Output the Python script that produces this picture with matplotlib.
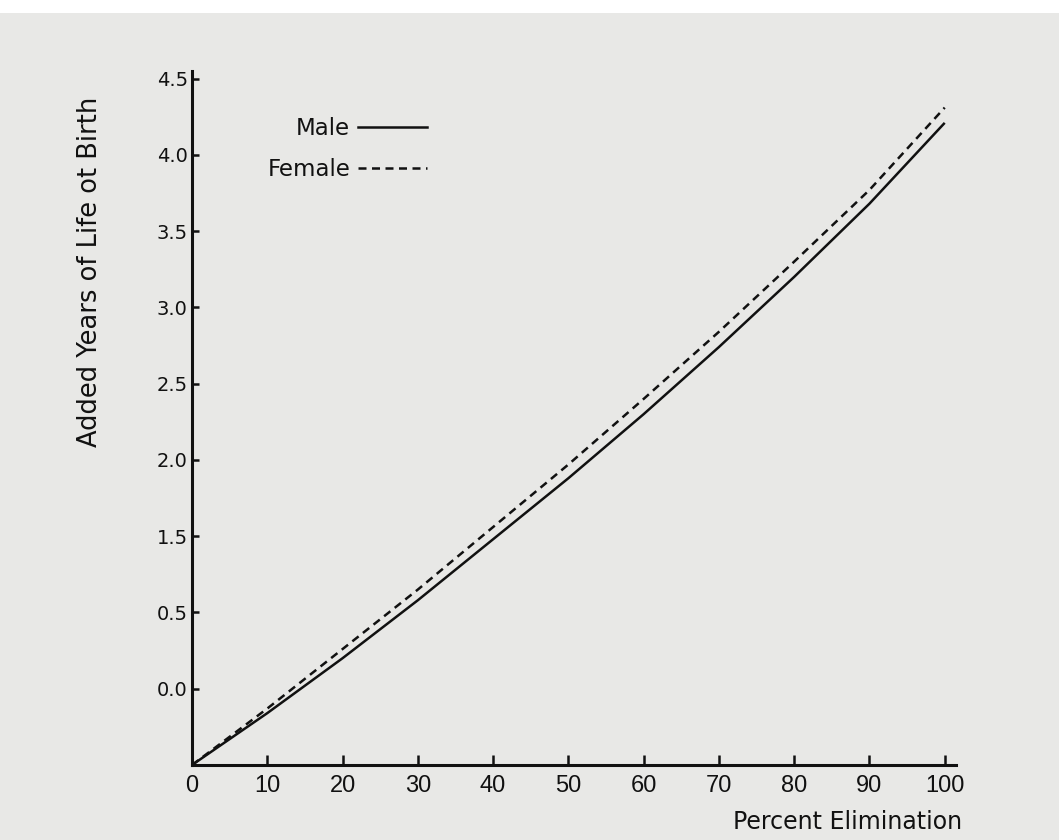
import matplotlib
matplotlib.use("Agg")
import matplotlib.pyplot as plt
from matplotlib.patches import Rectangle
from matplotlib.lines import Line2D

# ---- data ----
percent = [0, 10, 20, 30, 40, 50, 60, 70, 80, 90, 100]
male = [0.0, 0.34, 0.70, 1.08, 1.48, 1.88, 2.30, 2.74, 3.20, 3.68, 4.21]
female = [0.0, 0.37, 0.76, 1.15, 1.56, 1.97, 2.40, 2.84, 3.30, 3.77, 4.31]

x_ticks = [0, 10, 20, 30, 40, 50, 60, 70, 80, 90, 100]
y_tick_pos = [0.5, 1.0, 1.5, 2.0, 2.5, 3.0, 3.5, 4.0, 4.5]
y_tick_labels = ["0.0", "0.5", "1.5", "2.0", "2.5", "3.0", "3.5", "4.0", "4.5"]

x_label = "Percent Elimination"
y_label = "Added Years of Life ot Birth"
series_labels = ["Male", "Female"]

BG = "#e8e8e6"
INK = "#111111"
plt.rcParams["font.family"] = ["DejaVu Sans"]

fig = plt.figure(figsize=(10.59, 8.4), dpi=100, facecolor=BG)
fig.patches.append(Rectangle((0, 1 - 13 / 840), 1, 13 / 840, transform=fig.transFigure,
                             facecolor="white", edgecolor="none", zorder=0))

W, H = 1059, 840
x0, x1 = 192, 956
y0, y1 = 765, 71
ax = fig.add_axes([x0 / W, 1 - y0 / H, (x1 - x0) / W, (y0 - y1) / H])
ax.set_facecolor("none")
ax.set_xlim(0, 101.5)
ax.set_ylim(0, 4.55)

lw = 1.8
ax.plot(percent, male, color=INK, lw=lw, solid_capstyle="butt")
ax.plot(percent, female, color=INK, lw=lw, dashes=(3.2, 2.2))

for side in ["top", "right"]:
    ax.spines[side].set_visible(False)
for side in ["left", "bottom"]:
    ax.spines[side].set_linewidth(2.2)
    ax.spines[side].set_color(INK)

ax.set_xticks(x_ticks)
ax.set_xticklabels([str(v) for v in x_ticks], fontsize=17, family=["Liberation Sans", "DejaVu Sans"], color=INK)
ax.set_yticks(y_tick_pos)
ax.set_yticklabels(y_tick_labels, fontsize=14, color=INK)
ax.tick_params(axis="x", direction="in", length=7, width=1.8, pad=7, colors=INK)
ax.tick_params(axis="y", direction="in", length=5, width=1.8, pad=3, colors=INK)

ax.set_xlabel(x_label, fontsize=17, color=INK)
ax.xaxis.set_label_coords((848 - x0) / (x1 - x0), (y0 - 822) / (y0 - y1), transform=ax.transAxes)
ax.xaxis.label.set_verticalalignment("center")
ax.xaxis.label.set_horizontalalignment("center")

ax.set_ylabel(y_label, fontsize=18.5, color=INK)
ax.yaxis.set_label_coords((90 - x0) / (x1 - x0), (y0 - 272) / (y0 - y1), transform=ax.transAxes)
ax.yaxis.label.set_verticalalignment("center")
ax.yaxis.label.set_horizontalalignment("center")

handles = [Line2D([], [], color=INK, lw=lw),
           Line2D([], [], color=INK, lw=lw, dashes=(3.2, 2.2))]
leg = ax.legend(handles, series_labels, markerfirst=False, frameon=False,
                loc="upper right", bbox_to_anchor=((427 - x0) / (x1 - x0), (y0 - 117) / (y0 - y1)),
                borderpad=0, borderaxespad=0, fontsize=16.5, handlelength=3.0,
                handletextpad=0.35, labelspacing=0.8)
for t in leg.get_texts():
    t.set_color(INK)

fig.savefig("out.png", dpi=100, facecolor=BG)
